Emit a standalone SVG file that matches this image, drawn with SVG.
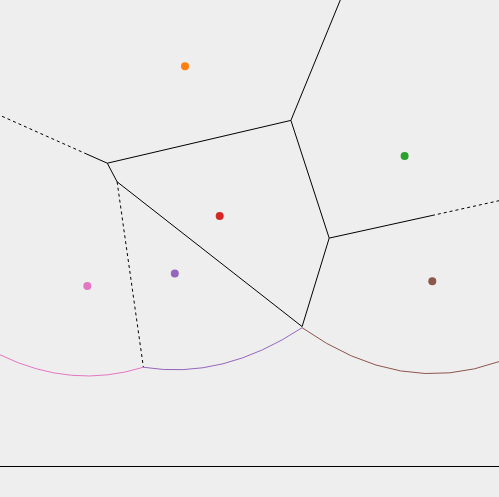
<svg xmlns="http://www.w3.org/2000/svg" width="499" height="497" viewBox="0 0 499 497">
<style>
.edge{stroke:#000;stroke-width:1;fill:none}
.dash{stroke:#000;stroke-width:1;fill:none;stroke-dasharray:3,3}
.arc{fill:none;stroke-width:1}
.sweep{stroke:#000;stroke-width:1}
</style>
<rect width="499" height="497" fill="#eeeeee"/>
<g id="connectors">
<line class="edge" x1="290.9" y1="120.4" x2="340.3" y2="0"/>
<line class="edge" x1="290.9" y1="120.4" x2="107.3" y2="163.2"/>
<line class="edge" x1="290.9" y1="120.4" x2="329.2" y2="238.1"/>
<line class="edge" x1="329.2" y1="238.1" x2="302.1" y2="326.6"/>
<line class="edge" x1="329.2" y1="238.1" x2="432" y2="215.5"/>
<line class="dash" x1="432" y1="215.5" x2="499" y2="200.7"/>
<line class="edge" x1="302.1" y1="326.6" x2="117.1" y2="181.8"/>
<line class="edge" x1="107.3" y1="163.2" x2="117.1" y2="181.8"/>
<line class="edge" x1="107.3" y1="163.2" x2="87" y2="154.2"/>
<line class="dash" x1="87" y1="154.2" x2="0" y2="115.4"/>
<line class="dash" x1="117.1" y1="181.8" x2="143.4" y2="367.2"/>
</g>
<g id="beachline">
<path class="arc" stroke="#e377c2" d="M0,354.83 Q71.7,389.6 143.4,367.25"/>
<path class="arc" stroke="#9467bd" d="M143.4,367.25 Q222.75,380.19 302.1,327.7"/>
<path class="arc" stroke="#8c564b" d="M302.1,327.7 Q400.55,397.16 499,361.61"/>
</g>
<line id="sweepline" class="sweep" x1="0" y1="466.5" x2="499" y2="466.5"/>
<g id="site-orange"><circle cx="185" cy="66.3" r="4" fill="#ff7f0e"/></g>
<g id="site-green"><circle cx="404.6" cy="156" r="4" fill="#2ca02c"/></g>
<g id="site-red"><circle cx="219.7" cy="216" r="4" fill="#d62728"/></g>
<g id="site-purple"><circle cx="174.8" cy="273.6" r="4" fill="#9467bd"/></g>
<g id="site-pink"><circle cx="87.3" cy="286" r="4" fill="#e377c2"/></g>
<g id="site-brown"><circle cx="432.3" cy="281.3" r="4" fill="#8c564b"/></g>
</svg>
